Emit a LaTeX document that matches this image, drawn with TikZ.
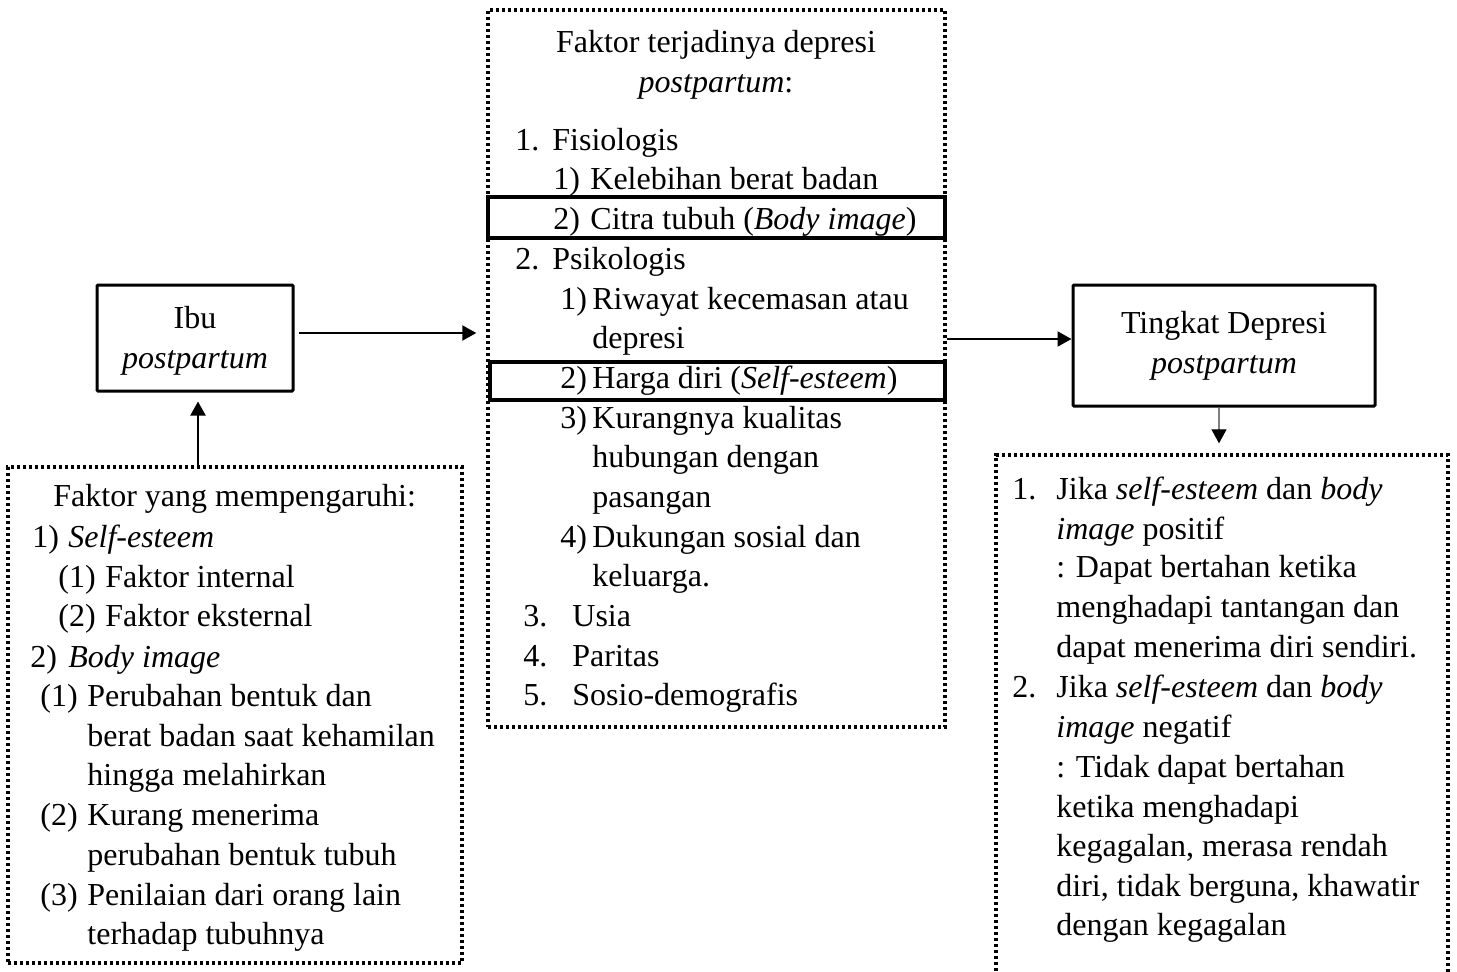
\documentclass[tikz,border=0pt]{standalone}
\usepackage{fontspec}
\setmainfont{Liberation Serif}
\usetikzlibrary{arrows.meta,fit}

\tikzset{
  txt/.style={anchor=base west, inner sep=0pt, font=\fontsize{16}{20}\selectfont},
  dotbox/.style={draw, line width=1.7pt, dash pattern=on 1.6pt off 1.4pt, inner sep=0pt},
  markbox/.style={draw, line width=2pt, inner sep=0pt},
  mainbox/.style={draw, line width=1.5pt, rounded corners=0.5pt, align=center, inner sep=0pt,
    font=\fontsize{16}{20}\selectfont},
  arr/.style={line width=1pt, -{Triangle[length=7pt,width=7.5pt]}}
}

\begin{document}
\begin{tikzpicture}[x=0.5pt, y=-0.5pt]
  \useasboundingbox (0,0) rectangle (1457,971);

  % main boxes
  \node[mainbox, minimum width=98pt, minimum height=53pt] (ibu) at (195,338) {\rule{0pt}{14pt}Ibu\\\textit{postpartum}};
  \node[mainbox, minimum width=151pt, minimum height=60.5pt] (tingkat) at (1224,345.5) {Tingkat Depresi\\\textit{postpartum}};

  % dotted boxes
  \node[dotbox, fit={(488,10) (945,727)}] (mid) {};
  \node[dotbox, fit={(8,467) (462,963)}] (fac) {};
  \node[dotbox, fit={(996,455) (1448,1000)}] (res) {};

  % marked items
  \node[markbox, fit={(488,197) (945,238)}] (citra) {};
  \node[markbox, fit={(490,362) (945,400)}] (harga) {};

  % connectors
  \draw[arr, shorten <=2pt, shorten >=5pt] ([yshift=2.5pt]ibu.east) -- ([yshift=2.5pt]ibu.east -| mid.west);
  \draw[arr] ([yshift=3.25pt]tingkat.west -| mid.east) -- ([yshift=3.25pt]tingkat.west);
  \draw[arr, line width=0.6pt, draw=gray, -{Triangle[length=7pt,width=7.5pt,color=black]}, shorten >=5pt]
    ([xshift=-2.5pt]tingkat.south) -- ([xshift=-2.5pt]tingkat.south |- res.north);
  \draw[arr, shorten >=4.5pt] ([xshift=1.5pt]ibu.south |- fac.north) -- ([xshift=1.5pt]ibu.south);

  % middle text
  \node[txt, anchor=base] (midtitle) at (716,52) {Faktor terjadinya depresi};
  \node[txt, anchor=base] (midsub) at (716,92) {\textit{postpartum}:};
  \foreach \x/\y/\t [count=\i] in {
      515/150/{1.}, 552/150/{Fisiologis},
      553/189/{1)}, 590/189/{Kelebihan berat badan},
      553/229/{2)}, 590/229/{Citra tubuh (\textit{Body image})},
      515/269/{2.}, 552/269/{Psikologis},
      560/309/{1)}, 592/309/{Riwayat kecemasan atau},
      592/348/{depresi},
      560/388/{2)}, 592/388/{Harga diri (\textit{Self-esteem})},
      560/428/{3)}, 592/428/{Kurangnya kualitas},
      592/467/{hubungan dengan},
      592/507/{pasangan},
      560/547/{4)}, 592/547/{Dukungan sosial dan},
      592/586/{keluarga.},
      523/626/{3.}, 572/626/{Usia},
      523/666/{4.}, 572/666/{Paritas},
      523/705/{5.}, 572/705/{Sosio-demografis}}
    \node[txt] (mid\i) at (\x,\y) {\t};

  % left text
  \foreach \x/\y/\t [count=\i] in {
      53/506/{Faktor yang mempengaruhi:},
      32/547/{1)}, 68/547/{\textit{Self-esteem}},
      58/587/{(1)}, 105/587/{Faktor internal},
      58/626/{(2)}, 105/626/{Faktor eksternal},
      30/667/{2)}, 68/667/{\textit{Body image}},
      40/706/{(1)}, 87/706/{Perubahan bentuk dan},
      87/746/{berat badan saat kehamilan},
      87/785/{hingga melahirkan},
      40/825/{(2)}, 87/825/{Kurang menerima},
      87/865/{perubahan bentuk tubuh},
      40/905/{(3)}, 87/905/{Penilaian dari orang lain},
      87/944/{terhadap tubuhnya}}
    \node[txt] (fac\i) at (\x,\y) {\t};

  % right text
  \foreach \x/\y/\t [count=\i] in {
      1012/499/{1.}, 1056/499/{Jika \textit{self-esteem} dan \textit{body}},
      1056/539/{\textit{image} positif},
      1056/577/{: Dapat bertahan ketika},
      1056/617/{menghadapi tantangan dan},
      1056/657/{dapat menerima diri sendiri.},
      1012/697/{2.}, 1056/697/{Jika \textit{self-esteem} dan \textit{body}},
      1056/737/{\textit{image} negatif},
      1056/777/{: Tidak dapat bertahan},
      1056/817/{ketika menghadapi},
      1056/856/{kegagalan, merasa rendah},
      1056/896/{diri, tidak berguna, khawatir},
      1056/935/{dengan kegagalan}}
    \node[txt] (res\i) at (\x,\y) {\t};
\end{tikzpicture}
\end{document}
